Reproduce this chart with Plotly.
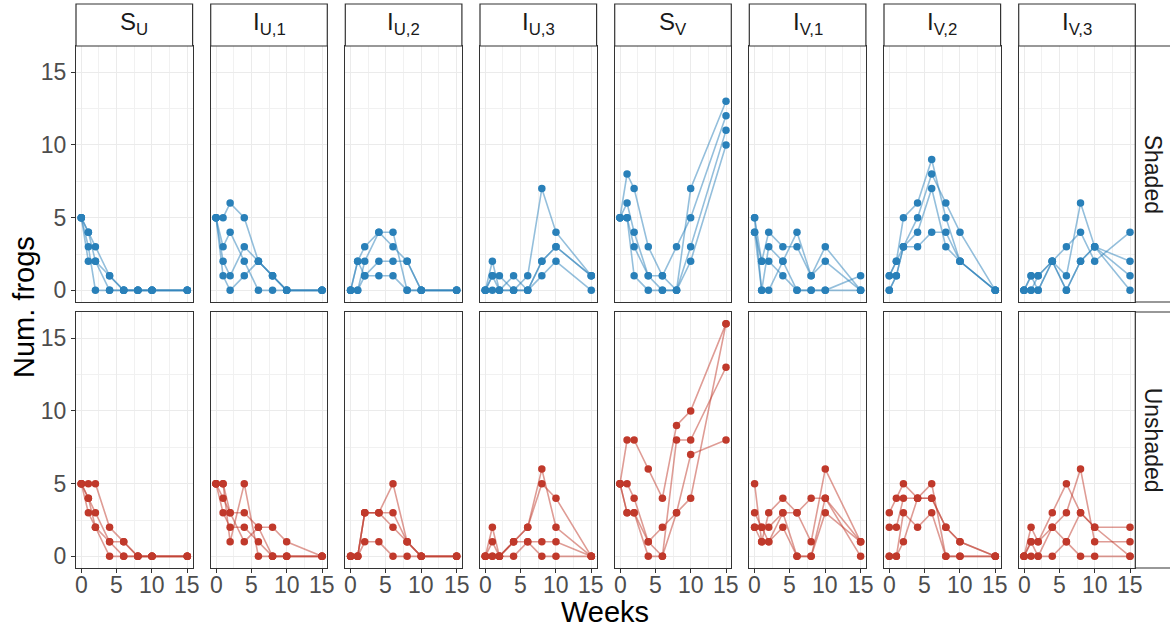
import plotly.graph_objects as go

W, H = 1170, 628

weeks = [0, 1, 2, 4, 6, 8, 10, 15]
compartments = ["S<sub>U</sub>", "I<sub>U,1</sub>", "I<sub>U,2</sub>", "I<sub>U,3</sub>",
                "S<sub>V</sub>", "I<sub>V,1</sub>", "I<sub>V,2</sub>", "I<sub>V,3</sub>"]
treatments = ["Shaded", "Unshaded"]
y_ticks = [0, 5, 10, 15]
x_ticks = [0, 5, 10, 15]

# Shaded replicates (each list = one replicate across weeks)
shaded_SU = [[5, 4, 3, 1, 0, 0, 0, 0], [5, 3, 0, 0, 0, 0, 0, 0], [5, 2, 2, 1, 0, 0, 0, 0], [5, 4, 2, 0, 0, 0, 0, 0]]
shaded_IU1 = [[5, 5, 6, 5, 2, 1, 0, 0], [5, 3, 4, 2, 0, 0, 0, 0], [5, 2, 1, 3, 2, 1, 0, 0], [5, 1, 0, 1, 2, 1, 0, 0]]
shaded_IU2 = [[0, 2, 3, 4, 4, 0, 0, 0], [0, 0, 2, 4, 3, 2, 0, 0], [0, 0, 1, 2, 2, 2, 0, 0], [0, 2, 1, 1, 1, 0, 0, 0]]
shaded_IU3 = [[0, 2, 0, 0, 1, 7, 4, 1], [0, 1, 1, 0, 0, 2, 3, 1], [0, 0, 0, 1, 0, 2, 3, 1], [0, 1, 0, 0, 0, 1, 2, 0]]
shaded_SV = [[5, 8, 7, 3, 1, 3, 5, 12], [5, 6, 4, 1, 0, 0, 7, 13], [5, 5, 3, 1, 1, 0, 3, 11], [5, 5, 1, 0, 0, 0, 2, 10]]
shaded_IV1 = [[5, 2, 4, 3, 3, 1, 3, 0], [5, 0, 3, 2, 4, 1, 2, 0], [4, 2, 2, 1, 0, 0, 0, 1], [4, 0, 0, 2, 0, 0, 0, 0]]
shaded_IV2 = [[1, 2, 5, 6, 9, 5, 2, 0], [0, 1, 3, 5, 8, 6, 4, 0], [0, 1, 3, 4, 7, 3, 2, 0], [1, 2, 3, 3, 4, 4, 2, 0]]
shaded_IV3 = [[0, 1, 1, 2, 3, 4, 2, 4], [0, 1, 0, 2, 1, 6, 3, 2], [0, 0, 1, 2, 0, 2, 3, 1], [0, 0, 0, 2, 0, 2, 3, 0]]

# Unshaded replicates
unshaded_SU = [[5, 5, 5, 2, 1, 0, 0, 0], [5, 4, 3, 1, 0, 0, 0, 0], [5, 3, 2, 0, 0, 0, 0, 0], [5, 4, 2, 1, 1, 0, 0, 0]]
unshaded_IU1 = [[5, 5, 1, 5, 0, 0, 0, 0], [5, 4, 3, 3, 2, 2, 1, 0], [5, 3, 2, 2, 1, 0, 0, 0], [5, 5, 3, 1, 2, 0, 0, 0]]
unshaded_IU2 = [[0, 0, 3, 3, 5, 1, 0, 0], [0, 0, 3, 3, 3, 1, 0, 0], [0, 0, 3, 3, 2, 1, 0, 0], [0, 0, 1, 1, 0, 0, 0, 0]]
unshaded_IU3 = [[0, 2, 0, 1, 2, 6, 2, 0], [0, 1, 0, 1, 2, 5, 4, 0], [0, 0, 0, 1, 1, 1, 1, 0], [0, 0, 0, 0, 1, 0, 0, 0]]
unshaded_SV = [[5, 8, 8, 6, 4, 9, 10, 16], [5, 5, 4, 1, 2, 3, 4, 16], [5, 3, 3, 0, 0, 8, 8, 13], [5, 3, 3, 1, 0, 3, 7, 8]]
unshaded_IV1 = [[5, 1, 3, 4, 3, 4, 4, 1], [3, 2, 1, 3, 3, 1, 6, 1], [2, 2, 2, 3, 0, 0, 4, 0], [2, 1, 1, 2, 0, 0, 3, 1]]
unshaded_IV2 = [[3, 4, 5, 4, 5, 0, 0, 0], [2, 2, 4, 4, 4, 2, 1, 0], [0, 0, 3, 2, 3, 0, 0, 0], [0, 0, 1, 4, 4, 2, 1, 0]]
unshaded_IV3 = [[0, 2, 1, 3, 5, 3, 2, 2], [0, 1, 1, 2, 3, 6, 1, 1], [0, 1, 0, 2, 1, 0, 0, 0], [0, 0, 0, 0, 1, 3, 2, 0]]

panels = [
    [shaded_SU, shaded_IU1, shaded_IU2, shaded_IU3, shaded_SV, shaded_IV1, shaded_IV2, shaded_IV3],
    [unshaded_SU, unshaded_IU1, unshaded_IU2, unshaded_IU3, unshaded_SV, unshaded_IV1, unshaded_IV2, unshaded_IV3],
]
solid = ["#2980b9", "#c0392b"]
faded = ["rgba(41,128,185,0.5)", "rgba(192,57,43,0.5)"]

# layout geometry (pixels)
col_left = [76, 210.7, 345.3, 480, 614.7, 749.3, 884, 1018.7]
panel_w = 116.6
rows_px = [(46, 302), (312, 568)]
strip_top = 4
strip_w = 42
FONT = "Liberation Sans, Arial, sans-serif"
TICK_FONT = dict(size=23, color="#4d4d4d", family=FONT)

fig = go.Figure()
layout = dict(
    width=W, height=H, margin=dict(l=0, r=0, t=0, b=0),
    paper_bgcolor="white", plot_bgcolor="white", showlegend=False,
    font=dict(family=FONT), shapes=[], annotations=[],
)

for r in range(2):
    for c in range(8):
        idx = r * 8 + c + 1
        xa = "x" if idx == 1 else f"x{idx}"
        ya = "y" if idx == 1 else f"y{idx}"
        for rep in panels[r][c]:
            fig.add_trace(go.Scatter(x=weeks, y=rep, mode="lines", xaxis=xa, yaxis=ya,
                                     line=dict(color=faded[r], width=1.6), hoverinfo="skip"))
        xs, ys = [], []
        for rep in panels[r][c]:
            xs += weeks
            ys += rep
        fig.add_trace(go.Scatter(x=xs, y=ys, mode="markers", xaxis=xa, yaxis=ya,
                                 marker=dict(color=solid[r], size=7.5, line=dict(width=0))))

        x0, x1 = col_left[c], col_left[c] + panel_w
        y0, y1 = rows_px[r]
        common = dict(showgrid=True, gridcolor="#ebebeb", gridwidth=1.1,
                      showline=True, mirror=True, linecolor="#333333", linewidth=1.2,
                      zeroline=False, ticklen=4, tickcolor="#333333", tickwidth=1.1,
                      tickfont=TICK_FONT,
                      minor=dict(tickvals=[2.5, 7.5, 12.5], showgrid=True,
                                 gridcolor="#f1f1f1", gridwidth=1))
        layout["xaxis" + ("" if idx == 1 else str(idx))] = dict(
            common, domain=[x0 / W, x1 / W], anchor=ya, range=[-0.75, 15.75],
            tickvals=x_ticks, showticklabels=False, ticks="outside" if r == 1 else "")
        layout["yaxis" + ("" if idx == 1 else str(idx))] = dict(
            common, domain=[1 - y1 / H, 1 - y0 / H], anchor=xa, range=[-0.8, 16.8],
            tickvals=y_ticks, showticklabels=(c == 0), ticks="outside" if c == 0 else "")
        # x tick labels of the bottom row, placed on the panel's own x scale
        if r == 1:
            for t in x_ticks:
                layout["annotations"].append(dict(text=str(t), xref=xa, yref="paper",
                                                  x=t, y=1 - 585 / H, showarrow=False,
                                                  font=TICK_FONT, xanchor="center",
                                                  yanchor="middle"))

# top strips
for c in range(8):
    x0, x1 = col_left[c], col_left[c] + panel_w
    layout["shapes"].append(dict(type="rect", xref="paper", yref="paper",
                                 x0=x0 / W, x1=x1 / W, y0=1 - 46 / H, y1=1 - strip_top / H,
                                 fillcolor="white", line=dict(color="#333333", width=1.2)))
    layout["annotations"].append(dict(text=compartments[c], xref="paper", yref="paper",
                                      x=(x0 + x1) / 2 / W, y=1 - 24 / H, showarrow=False,
                                      font=dict(size=24, color="#1a1a1a", family=FONT),
                                      xanchor="center", yanchor="middle"))
# right strips
rx0 = col_left[7] + panel_w
for r in range(2):
    y0, y1 = rows_px[r]
    layout["shapes"].append(dict(type="rect", xref="paper", yref="paper",
                                 x0=rx0 / W, x1=(rx0 + strip_w) / W, y0=1 - y1 / H, y1=1 - y0 / H,
                                 fillcolor="white", line=dict(color="#333333", width=1.2)))
    layout["annotations"].append(dict(text=treatments[r], xref="paper", yref="paper",
                                      x=(rx0 + 18) / W, y=1 - (y0 + y1) / 2 / H, showarrow=False,
                                      textangle=90, font=dict(size=23, color="#1a1a1a", family=FONT),
                                      xanchor="center", yanchor="middle"))

layout["annotations"].append(dict(text="Num. frogs", xref="paper", yref="paper",
                                  x=24 / W, y=1 - 307 / H, showarrow=False, textangle=-90,
                                  font=dict(size=29, color="black", family=FONT),
                                  xanchor="center", yanchor="middle"))
layout["annotations"].append(dict(text="Weeks", xref="paper", yref="paper",
                                  x=605 / W, y=1 - 612 / H, showarrow=False,
                                  font=dict(size=29, color="black", family=FONT),
                                  xanchor="center", yanchor="middle"))

fig.update_layout(**layout)
fig.write_html("out.html", config={"displayModeBar": False})

# remove default page margin so the figure sits at the window's top-left corner
with open("out.html", "r", encoding="utf-8") as f:
    html = f.read()
html = html.replace("<body>", '<body style="margin:0;padding:0;overflow:hidden">', 1)
with open("out.html", "w", encoding="utf-8") as f:
    f.write(html)
